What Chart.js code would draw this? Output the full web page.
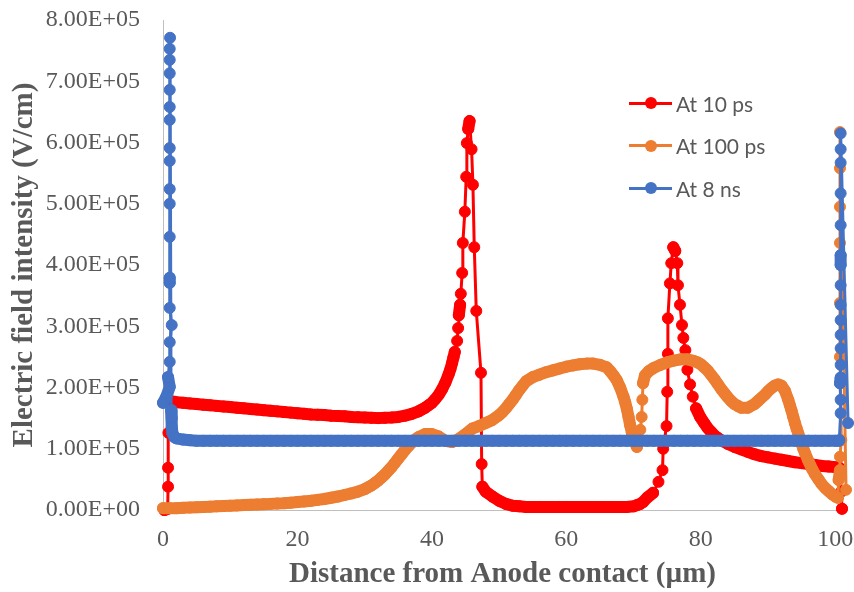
<!DOCTYPE html>
<html>
<head>
<meta charset="utf-8">
<script src="https://cdn.jsdelivr.net/npm/chart.js@4.4.1/dist/chart.umd.min.js"></script>
<style>
html, body { margin: 0; padding: 0; background: #fff; }
#wrap { position: relative; width: 854px; height: 592px; }
#legend { position: absolute; left: 629px; top: 82px; font-family: Lato, "Noto Sans", sans-serif; font-size: 21px; color: #595959; }
.item { display: flex; align-items: center; height: 42.5px; }
.sw { position: relative; width: 43px; height: 12px; margin-right: 4px; }
.sw .ln { position: absolute; left: 0; right: 0; top: 4.5px; height: 3px; }
.sw .dt { position: absolute; left: 16px; top: 0; width: 12px; height: 12px; border-radius: 50%; }
</style>
</head>
<body>
<div id="wrap">
  <canvas id="chart" width="854" height="592"></canvas>
  <div id="legend"></div>
</div>
<script>
// values, field in V/cm, distance in um
const redX = [0.2, 0.7, 0.75, 0.75, 0.8,
  1, 2, 3, 4, 5, 6, 7, 8, 9, 10, 11, 12, 13, 14, 15, 16, 17, 18, 19, 20,
  21, 22, 23, 24, 25, 26, 27, 28, 29, 30, 31, 32, 33, 34, 35, 36, 37,
  38, 38.5, 39, 39.5, 40,
  40.5, 41, 41.5, 42, 42.5, 42.75, 43, 43.2, 43.4, 43.75, 43.9, 44, 44.2, 44.3, 44.5, 44.6, 44.9, 45.1, 45.2, 45.4, 45.6,
  45.9, 46.1, 46.3, 46.6, 47.3, 47.4, 47.5,
  48, 49, 50, 51, 52, 53, 54, 55, 56, 57, 58, 59, 60, 61, 62, 63, 64, 65, 66, 67, 68, 69, 70,
  70.5, 71, 71.4, 72, 72.9, 73.7, 74.3, 74.4, 74.9, 75, 75.1, 75.1, 75.4, 75.6, 75.9,
  76.2, 76.5, 76.6, 76.9, 77.2, 77.4, 77.7, 78, 78.4, 78.8, 79.3, 79.9, 80.5,
  81, 81.5, 82, 82.5, 83,
  84, 85, 86, 87, 88, 89, 90, 91, 92, 93, 94, 95, 96, 97, 98, 99, 100,
  100.6, 100.9, 101, 101.3];
const redY = [0, 0.02e5, 0.38e5, 0.69e5, 1.26e5,
  1.78e5, 1.76e5, 1.75e5, 1.74e5, 1.73e5, 1.72e5, 1.71e5, 1.70e5, 1.69e5, 1.68e5,
  1.67e5, 1.66e5, 1.65e5, 1.64e5, 1.63e5, 1.62e5, 1.61e5, 1.60e5, 1.59e5, 1.58e5,
  1.57e5, 1.56e5, 1.555e5, 1.55e5, 1.54e5, 1.535e5, 1.53e5, 1.52e5, 1.515e5, 1.51e5,
  1.505e5, 1.50e5, 1.505e5, 1.51e5, 1.52e5, 1.54e5, 1.57e5,
  1.61e5, 1.64e5, 1.67e5, 1.71e5, 1.75e5,
  1.81e5, 1.88e5, 1.97e5, 2.08e5, 2.22e5, 2.30e5, 2.40e5, 2.49e5, 2.58e5, 2.76e5, 2.97e5, 3.18e5, 3.35e5, 3.53e5, 3.87e5, 4.36e5, 4.87e5, 5.44e5, 5.99e5, 6.22e5, 6.35e5,
  5.89e5, 5.31e5, 4.29e5, 3.25e5, 2.24e5, 0.75e5, 0.38e5,
  0.30e5, 0.22e5, 0.15e5, 0.10e5, 0.07e5, 0.06e5, 0.05e5, 0.05e5, 0.05e5, 0.05e5, 0.05e5, 0.05e5, 0.05e5, 0.05e5, 0.05e5, 0.05e5, 0.05e5, 0.05e5, 0.05e5, 0.05e5, 0.05e5, 0.05e5, 0.06e5,
  0.08e5, 0.10e5, 0.13e5, 0.20e5, 0.28e5, 0.46e5, 0.65e5, 1.00e5, 1.37e5, 1.93e5, 2.55e5, 3.13e5, 3.70e5, 4.03e5, 4.29e5,
  4.23e5, 4.03e5, 3.67e5, 3.35e5, 3.02e5, 2.81e5, 2.61e5, 2.29e5, 2.05e5, 1.85e5, 1.66e5, 1.52e5, 1.42e5,
  1.34e5, 1.28e5, 1.22e5, 1.18e5, 1.14e5,
  1.08e5, 1.03e5, 0.99e5, 0.95e5, 0.91e5, 0.88e5, 0.86e5,
  0.84e5, 0.82e5, 0.80e5, 0.78e5, 0.765e5, 0.75e5, 0.735e5, 0.72e5, 0.71e5, 0.70e5,
  0.69e5, 0.30e5, 0.02e5, 0];

const orangeX = [0, 1, 2, 3, 4, 5, 6, 7, 8, 9, 10, 11, 12, 13, 14, 15, 16, 17, 18, 19,
  20, 21, 22, 23, 24, 25, 26, 27, 28, 29,
  30, 30.5, 31, 31.5, 32, 32.5, 33, 33.5, 34, 34.5, 35, 35.5, 36, 36.5, 37, 37.5, 38,
  39, 40, 41, 42, 43, 44, 45, 46, 47, 48, 49, 50,
  50.5, 51, 51.5, 52, 52.5, 53, 53.5,
  54, 55, 56, 57, 58, 59, 60, 61, 62, 63, 64, 65, 66,
  66.5, 67, 67.5, 68, 68.5, 68.75, 69, 69.25, 69.5, 69.75, 70, 70.5,
  71, 71.2, 71.3, 71.4, 71.7, 72.3,
  73, 74, 75, 76, 77, 78, 79,
  79.5, 80, 80.5, 81, 81.5, 82, 82.5, 83, 83.5, 84, 84.5, 85, 85.5, 86, 87, 88,
  88.5, 89, 89.5, 90, 90.5, 91, 91.5, 92, 92.5, 93,
  93.25, 93.5, 93.75, 94, 94.25, 94.5, 94.75, 95, 95.25, 95.5,
  96, 96.5, 97, 97.5, 98, 98.5, 99, 99.5, 100,
  100.4, 100.5, 100.7, 100.7, 100.9,
  100.7, 100.7, 100.7, 100.7, 100.7, 100.7, 101.6];
const orangeY = [0.03e5, 0.03e5, 0.03e5, 0.035e5, 0.04e5, 0.045e5, 0.05e5, 0.055e5, 0.06e5, 0.065e5,
  0.07e5, 0.075e5, 0.08e5, 0.085e5, 0.09e5, 0.095e5, 0.10e5, 0.105e5, 0.11e5, 0.12e5,
  0.13e5, 0.14e5, 0.15e5, 0.165e5, 0.18e5, 0.20e5, 0.22e5, 0.245e5, 0.27e5, 0.30e5,
  0.34e5, 0.37e5, 0.40e5, 0.44e5, 0.48e5, 0.53e5, 0.58e5, 0.64e5, 0.70e5, 0.77e5, 0.84e5, 0.91e5, 0.98e5, 1.04e5, 1.10e5, 1.15e5, 1.19e5,
  1.24e5, 1.24e5, 1.20e5, 1.13e5, 1.11e5, 1.16e5, 1.24e5, 1.33e5, 1.37e5, 1.42e5, 1.47e5, 1.55e5,
  1.60e5, 1.66e5, 1.73e5, 1.80e5, 1.88e5, 1.96e5, 2.03e5,
  2.10e5, 2.17e5, 2.21e5, 2.25e5, 2.28e5, 2.31e5, 2.34e5, 2.36e5, 2.38e5, 2.39e5, 2.39e5, 2.37e5, 2.33e5,
  2.27e5, 2.20e5, 2.12e5, 2.00e5, 1.85e5, 1.76e5, 1.65e5, 1.52e5, 1.38e5, 1.26e5, 1.15e5, 1.03e5,
  1.31e5, 1.52e5, 1.80e5, 2.07e5, 2.20e5, 2.27e5,
  2.32e5, 2.37e5, 2.41e5, 2.44e5, 2.46e5, 2.46e5, 2.43e5,
  2.41e5, 2.38e5, 2.33e5, 2.28e5, 2.21e5, 2.14e5, 2.06e5, 1.98e5, 1.91e5, 1.84e5, 1.78e5, 1.73e5, 1.70e5, 1.67e5, 1.67e5, 1.73e5,
  1.78e5, 1.83e5, 1.88e5, 1.94e5, 1.99e5, 2.03e5, 2.05e5, 2.03e5, 1.95e5, 1.80e5,
  1.71e5, 1.62e5, 1.52e5, 1.42e5, 1.33e5, 1.25e5, 1.16e5, 1.08e5, 1.00e5, 0.93e5,
  0.80e5, 0.68e5, 0.58e5, 0.50e5, 0.42e5, 0.36e5, 0.31e5, 0.26e5, 0.22e5,
  0.20e5, 0.49e5, 0.65e5, 0.87e5, 1.14e5,
  2.50e5, 3.38e5, 4.36e5, 4.95e5, 5.58e5, 6.17e5, 0.33e5];

const blueX = [0, 0.5, 1, 0.75, 1, 1, 1.3, 1, 1, 1, 1, 1, 1, 1, 1, 1, 1, 1, 1, 1, 1, 1.05,
  1.2, 1.3, 1.3, 1.4, 1.7, 2, 3, 4,
  5, 6, 7, 8, 9, 10, 11, 12, 13, 14, 15, 16, 17, 18, 19, 20, 21, 22, 23, 24,
  25, 26, 27, 28, 29, 30, 31, 32, 33, 34, 35, 36, 37, 38, 39, 40, 41, 42, 43, 44,
  45, 46, 47, 48, 49, 50, 51, 52, 53, 54, 55, 56, 57, 58, 59, 60, 61, 62, 63, 64,
  65, 66, 67, 68, 69, 70, 71, 72, 73, 74, 75, 76, 77, 78, 79, 80, 81, 82, 83, 84,
  85, 86, 87, 88, 89, 90, 91, 92, 93, 94, 95, 96, 97, 98, 99, 100,
  100.5, 100.6, 100.8, 100.8, 100.7, 100.8, 100.8, 100.8, 100.8, 100.8, 100.8, 100.8,
  100.8, 100.8, 100.8, 100.8, 100.8, 100.8, 100.8, 101.9];
const blueY = [1.75e5, 1.85e5, 2.01e5, 2.17e5, 2.42e5, 2.74e5, 3.02e5, 3.30e5, 3.71e5, 3.79e5, 4.46e5,
  5.00e5, 5.24e5, 5.70e5, 5.91e5, 6.37e5, 6.58e5, 6.86e5, 7.13e5, 7.35e5, 7.53e5, 7.71e5,
  1.63e5, 1.50e5, 1.36e5, 1.26e5, 1.19e5, 1.17e5, 1.15e5, 1.14e5,
  1.13e5, 1.13e5, 1.13e5, 1.13e5, 1.13e5, 1.13e5, 1.13e5, 1.13e5, 1.13e5, 1.13e5, 1.13e5, 1.13e5, 1.13e5, 1.13e5, 1.13e5, 1.13e5, 1.13e5, 1.13e5, 1.13e5, 1.13e5,
  1.13e5, 1.13e5, 1.13e5, 1.13e5, 1.13e5, 1.13e5, 1.13e5, 1.13e5, 1.13e5, 1.13e5, 1.13e5, 1.13e5, 1.13e5, 1.13e5, 1.13e5, 1.13e5, 1.13e5, 1.13e5, 1.13e5, 1.13e5,
  1.13e5, 1.13e5, 1.13e5, 1.13e5, 1.13e5, 1.13e5, 1.13e5, 1.13e5, 1.13e5, 1.13e5, 1.13e5, 1.13e5, 1.13e5, 1.13e5, 1.13e5, 1.13e5, 1.13e5, 1.13e5, 1.13e5, 1.13e5,
  1.13e5, 1.13e5, 1.13e5, 1.13e5, 1.13e5, 1.13e5, 1.13e5, 1.13e5, 1.13e5, 1.13e5, 1.13e5, 1.13e5, 1.13e5, 1.13e5, 1.13e5, 1.13e5, 1.13e5, 1.13e5, 1.13e5, 1.13e5,
  1.13e5, 1.13e5, 1.13e5, 1.13e5, 1.13e5, 1.13e5, 1.13e5, 1.13e5, 1.13e5, 1.13e5, 1.13e5, 1.13e5, 1.13e5, 1.13e5, 1.13e5, 1.13e5,
  1.13e5, 1.14e5, 1.58e5, 1.80e5, 2.07e5, 2.16e5, 2.37e5, 2.64e5, 2.86e5, 3.10e5, 3.35e5, 3.67e5,
  4.00e5, 4.16e5, 4.65e5, 5.17e5, 5.67e5, 5.89e5, 6.15e5, 1.42e5];

const seriesNames = ["At 10 ps", "At 100 ps", "At 8 ns"];
const seriesColors = ["#FF0000", "#ED7D31", "#4472C4"];

function xyzip(arr1, arr2) {
    return arr1.map((value, index) => ({"x": value, "y": arr2[index]}));
}

// 8.00E+05 style labels
function sci(v) {
    if (v === 0) return "0.00E+00";
    let e = Math.floor(Math.log10(Math.abs(v)) + 1e-9);
    let m = v / Math.pow(10, e);
    return m.toFixed(2) + "E" + (e < 0 ? "-" : "+") + String(Math.abs(e)).padStart(2, "0");
}

// where markers sit close together they merge into a solid band, so fatten the line there
function bandWidth(ctx) {
    let d = Math.hypot(ctx.p1.x - ctx.p0.x, ctx.p1.y - ctx.p0.y);
    return d < 10.5 ? 12 : 3;
}

function makeSet(i, xs, ys, order) {
    return {
        label: seriesNames[i],
        data: xyzip(xs, ys),
        showLine: true,
        borderColor: seriesColors[i],
        backgroundColor: seriesColors[i],
        pointBackgroundColor: seriesColors[i],
        pointBorderColor: seriesColors[i],
        pointBorderWidth: 1,
        pointRadius: 5.5,
        pointHoverRadius: 5.5,
        borderWidth: 3,
        borderCapStyle: "round",
        borderJoinStyle: "round",
        segment: {borderWidth: bandWidth},
        clip: false,
        order: order
    };
}

const grey = "#595959";
const serif = "'Liberation Serif', 'Times New Roman', serif";

new Chart("chart", {
    type: "scatter",
    data: {
        datasets: [
            makeSet(0, redX, redY, 2),
            makeSet(1, orangeX, orangeY, 1),
            makeSet(2, blueX, blueY, 0)
        ]
    },
    options: {
        responsive: false,
        animation: false,
        layout: {padding: {top: 20, right: 12, left: 0, bottom: 0}},
        plugins: {legend: {display: false}, tooltip: {enabled: false}},
        scales: {
            x: {
                type: "linear", min: 0, max: 101,
                grid: {display: false},
                border: {display: true, color: "#BFBFBF", width: 1},
                ticks: {stepSize: 20, includeBounds: false, padding: 7, color: grey, font: {family: serif, size: 24}},
                title: {display: true, text: "Distance from Anode contact (µm)", color: grey,
                        font: {family: serif, size: 29, weight: "bold"}, padding: {top: 0, bottom: 0}},
                afterFit: function(s) { s.height = 82; s.paddingLeft = 0; s.paddingRight = 0; }
            },
            y: {
                type: "linear", min: 0, max: 8e5,
                grid: {display: false},
                border: {display: true, color: "#BFBFBF", width: 1},
                ticks: {stepSize: 1e5, padding: 15, color: grey, font: {family: serif, size: 24}, callback: sci},
                title: {display: true, text: "Electric field intensity (V/cm)", color: grey,
                        font: {family: serif, size: 29, weight: "bold"}, padding: {top: 7, bottom: 0}},
                afterFit: function(s) { s.width = 163; s.paddingTop = 0; s.paddingBottom = 0; }
            }
        }
    }
});

// legend inside the plot, top right
const legend = document.getElementById("legend");
seriesNames.forEach((name, i) => {
    let item = document.createElement("div");
    item.className = "item";
    item.innerHTML = '<div class="sw"><div class="ln" style="background:' + seriesColors[i] + '"></div>' +
        '<div class="dt" style="background:' + seriesColors[i] + '"></div></div><span>' + name + '</span>';
    legend.appendChild(item);
});
</script>
</body>
</html>
